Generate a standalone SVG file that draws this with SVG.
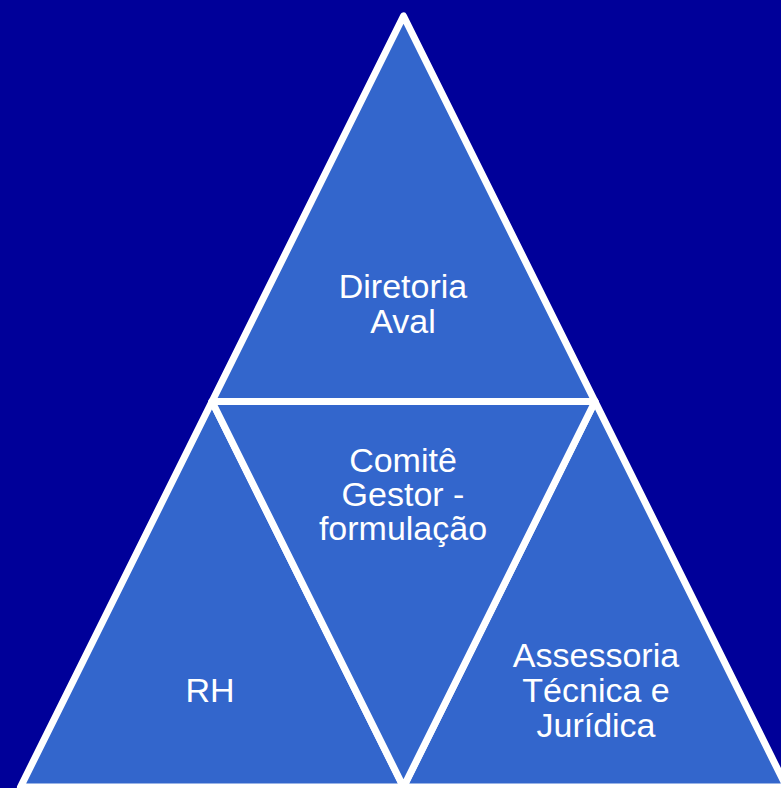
<svg xmlns="http://www.w3.org/2000/svg" width="781" height="788" viewBox="0 0 781 788">
<style>
.tri{fill:#3366CC;stroke:#FFFFFF;stroke-width:7;stroke-linejoin:round}
.lbl{font-family:"Liberation Sans",Arial,sans-serif;font-size:34px;fill:#FFFFFF;text-anchor:middle}
</style>
<rect width="781" height="788" fill="#000099"/>
<g id="top">
<polygon class="tri" points="403.5,16 212,401.5 595,401.5"/>
<text class="lbl" x="403" y="298">Diretoria</text>
<text class="lbl" x="403" y="333">Aval</text>
</g>
<g id="left">
<polygon class="tri" points="212,401.5 20.5,787 403.5,787"/>
<text class="lbl" x="210" y="702">RH</text>
</g>
<g id="right">
<polygon class="tri" points="595,401.5 403.5,787 786.5,787"/>
<text class="lbl" x="596" y="667">Assessoria</text>
<text class="lbl" x="596" y="702">Técnica e</text>
<text class="lbl" x="596" y="737">Jurídica</text>
</g>
<g id="middle">
<polygon class="tri" points="212,401.5 595,401.5 403.5,787"/>
<text class="lbl" x="403" y="472">Comitê</text>
<text class="lbl" x="403" y="506">Gestor -</text>
<text class="lbl" x="403" y="540">formulação</text>
</g>
<g id="connectors"></g>
</svg>
